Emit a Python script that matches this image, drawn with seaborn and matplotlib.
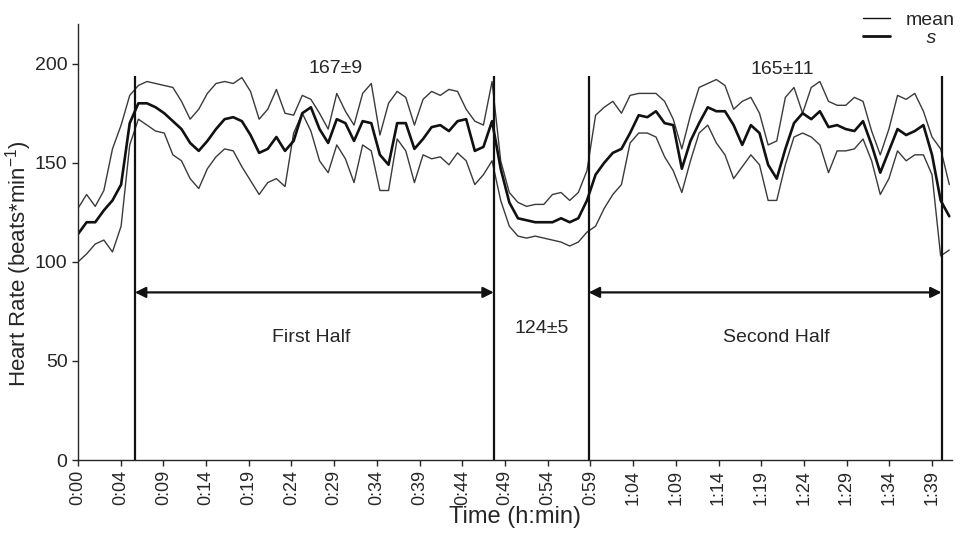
import numpy as np
import pandas as pd
import seaborn as sns
import matplotlib.pyplot as plt
from matplotlib.lines import Line2D

# Time in minutes (one reading per minute)
minutes = list(range(0, 102))

hr_mean = [114, 120, 120, 126, 131, 139, 170, 180, 180, 178,
           175, 171, 167, 160, 156, 161, 167, 172, 173, 171,
           164, 155, 157, 163, 156, 161, 175, 178, 167, 160,
           172, 170, 161, 171, 170, 154, 149, 170, 170, 157,
           162, 168, 169, 166, 171, 172, 156, 158, 171, 147,
           130, 122, 121, 120, 120, 120, 122, 120, 122, 131,
           144, 150, 155, 157, 165, 174, 173, 176, 170, 169,
           147, 161, 170, 178, 176, 176, 169, 159, 169, 165,
           149, 142, 157, 170, 175, 172, 176, 168, 169, 167,
           166, 171, 159, 145, 156, 167, 164, 166, 169, 154,
           131, 123]

hr_upper = [127, 134, 128, 136, 157, 169, 184, 189, 191, 190,
            189, 188, 181, 172, 177, 185, 190, 191, 190, 193,
            186, 172, 177, 187, 175, 174, 184, 182, 175, 167,
            185, 176, 169, 185, 190, 164, 180, 186, 183, 169,
            182, 186, 184, 187, 186, 177, 171, 169, 191, 151,
            135, 130, 128, 129, 129, 134, 135, 131, 135, 146,
            174, 178, 181, 175, 184, 185, 185, 185, 181, 172,
            157, 174, 188, 190, 192, 189, 177, 181, 183, 175,
            159, 161, 183, 188, 175, 188, 191, 181, 179, 179,
            183, 181, 166, 154, 167, 184, 182, 185, 176, 163,
            157, 139]

hr_lower = [100, 104, 109, 111, 105, 118, 159, 172, 169, 166,
            165, 154, 151, 142, 137, 147, 153, 157, 156, 148,
            141, 134, 140, 142, 138, 165, 175, 166, 151, 145,
            159, 152, 140, 159, 156, 136, 136, 162, 156, 140,
            154, 152, 153, 149, 155, 151, 139, 144, 151, 131,
            118, 113, 112, 113, 112, 111, 110, 108, 110, 115,
            118, 127, 134, 139, 160, 165, 165, 163, 153, 146,
            135, 151, 165, 169, 160, 154, 142, 148, 154, 149,
            131, 131, 149, 163, 165, 163, 159, 145, 156, 156,
            157, 162, 151, 134, 142, 156, 151, 154, 154, 144,
            103, 106]

# Period boundaries (min) and labels
boundaries = [6.6, 48.2, 59.2, 100.1]
boundary_top = 194
periods = ["First Half", "Second Half"]
period_stats = ["167±9", "165±11"]
break_stat = "124±5"

tick_labels = ["0:00", "0:04", "0:09", "0:14", "0:19", "0:24", "0:29",
               "0:34", "0:39", "0:44", "0:49", "0:54", "0:59", "1:04",
               "1:09", "1:14", "1:19", "1:24", "1:29", "1:34", "1:39"]

df = pd.DataFrame({"t": minutes, "mean": hr_mean,
                   "upper": hr_upper, "lower": hr_lower})

sns.set_style("ticks")
plt.rcParams['font.family'] = ['Liberation Sans', 'DejaVu Sans']
plt.rcParams['mathtext.default'] = 'regular'

fig = plt.figure(figsize=(9.71, 5.40), dpi=100)
ax = fig.add_axes([0.0803, 0.148, 0.900, 0.8075])

sns.lineplot(data=df, x="t", y="upper", ax=ax, color="#3a3a3a", linewidth=1.0)
sns.lineplot(data=df, x="t", y="lower", ax=ax, color="#3a3a3a", linewidth=1.0)
sns.lineplot(data=df, x="t", y="mean", ax=ax, color="#111111", linewidth=1.9)

# vertical period markers
ax.vlines(boundaries, 0, boundary_top, color="#111111", linewidth=1.6)

# double arrows for the halves
arrow_y = 84.6
for (a, b) in [(boundaries[0], boundaries[1]), (boundaries[2], boundaries[3])]:
    ax.annotate("", xy=(a, arrow_y), xytext=(b, arrow_y),
                arrowprops=dict(arrowstyle="<|-|>", color="#111111", lw=1.6,
                                mutation_scale=16, shrinkA=0, shrinkB=0))

ax.text(27.0, 62, periods[0], ha="center", va="center", fontsize=14)
ax.text(80.9, 62, periods[1], ha="center", va="center", fontsize=14)
ax.text(29.9, 197.5, period_stats[0], ha="center", va="center", fontsize=14)
ax.text(81.7, 197, period_stats[1], ha="center", va="center", fontsize=14)
ax.text(53.8, 66.5, break_stat, ha="center", va="center", fontsize=14)

ax.set_xlim(0, 101.3)
ax.set_ylim(0, 220)
ax.set_xticks(np.arange(len(tick_labels)) * 4.95)
ax.set_xticklabels(tick_labels, rotation=90, fontsize=13)
ax.set_yticks([0, 50, 100, 150, 200])
ax.tick_params(axis="y", labelsize=14, length=4, width=1)
ax.tick_params(axis="x", length=4, width=1, pad=3)
ax.set_xlabel("Time (h:min)", fontsize=17, labelpad=1)
ax.set_ylabel("Heart Rate (beats*min$^{-1}$)", fontsize=16)
ax.yaxis.set_label_coords(-0.05, 0.45)
sns.despine(ax=ax)
for sp in ["left", "bottom"]:
    ax.spines[sp].set_linewidth(1.0)

handles = [Line2D([], [], color="#111111", linewidth=1.0),
           Line2D([], [], color="#111111", linewidth=2.0)]
leg = fig.legend(handles, ["mean", "    s"], loc="upper right",
                 bbox_to_anchor=(0.995, 1.0), frameon=False, fontsize=14,
                 handlelength=1.4, labelspacing=0.0, borderpad=0.1,
                 handletextpad=0.8)
leg.get_texts()[1].set_fontstyle("italic")

fig.savefig("out.png", dpi=100)
